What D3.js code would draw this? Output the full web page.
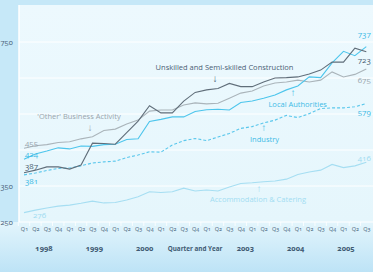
<!DOCTYPE html>
<html>
<head>
  <meta charset="utf-8">
  <script src="https://cdn.jsdelivr.net/npm/d3@7/dist/d3.min.js"></script>
  <style>
    body { margin: 0; background: #c6e8f8; }
    text { font-family: "Open Sans", "Noto Sans", sans-serif; font-variant-numeric: oldstyle-nums; }
  </style>
</head>
<body>
<script>

// quarters 1998 Q1 .. 2005 Q3
var quarterLabels = ["Q1","Q2","Q3","Q4","Q1","Q2","Q3","Q4","Q1","Q2","Q3","Q4",
                     "Q1","Q2","Q3","Q4","Q1","Q2","Q3","Q4","Q1","Q2","Q3","Q4",
                     "Q1","Q2","Q3","Q4","Q1","Q2","Q3"];
var yearLabels = ["1998", "1999", "2000", "Quarter and Year", "2003", "2004", "2005"];
var yTickLabels = [250, 350, 750];
var gridValues = [250, 350, 450, 550, 650, 750];

var construction = [387,394,403,403,397,408,469,468,466,498,530,573,553,553,586,610,
                    617,621,635,626,626,639,650,651,653,661,672,694,694,733,723];
var business = [455,462,465,471,473,481,487,504,508,522,533,558,561,561,575,581,
                578,580,594,608,614,628,636,639,644,639,644,667,653,660,675];
var localAuth = [424,439,447,456,453,461,460,465,466,479,481,529,535,542,542,557,
                 562,563,561,582,586,594,603,617,628,653,651,692,724,712,737];
var industry = [381,386,393,399,400,406,414,417,419,429,436,445,444,464,476,482,
                476,486,496,510,515,525,533,546,540,551,565,567,567,570,579];
var accommodation = [276,283,289,294,297,302,308,303,304,311,320,334,332,334,344,336,
                     339,336,347,357,359,362,364,369,382,389,394,410,401,406,416];

var series = [
  {name: "Accommodation & Catering", values: accommodation, color: "#a6def2", dash: null},
  {name: "Industry", values: industry, color: "#5ac7ec", dash: "3,2"},
  {name: "'Other' Business Activity", values: business, color: "#aab4ba", dash: null},
  {name: "Local Authorities", values: localAuth, color: "#4cc5ec", dash: null},
  {name: "Unskilled and Semi-skilled Construction", values: construction, color: "#606e7a", dash: null}
];

var svgWidth = 373, svgHeight = 272;
var plot = {left: 19, top: 5, right: 373, bottom: 222};

var svg = d3.select("body").append("svg")
    .attr("width", svgWidth)
    .attr("height", svgHeight);

var defs = svg.append("defs");
var g1 = defs.append("linearGradient").attr("id", "bottomGrad")
    .attr("x1", 0).attr("y1", 0).attr("x2", 0).attr("y2", 1);
g1.append("stop").attr("offset", "0%").attr("stop-color", "#e3f5fc");
g1.append("stop").attr("offset", "100%").attr("stop-color", "#bde3f6");
var g2 = defs.append("linearGradient").attr("id", "plotGrad")
    .attr("x1", 0).attr("y1", 0).attr("x2", 0).attr("y2", 1);
g2.append("stop").attr("offset", "0%").attr("stop-color", "#edf9fe");
g2.append("stop").attr("offset", "100%").attr("stop-color", "#e5f6fc");

svg.append("rect")
    .attr("x", 0).attr("y", plot.bottom)
    .attr("width", svgWidth).attr("height", svgHeight - plot.bottom)
    .attr("fill", "url(#bottomGrad)");

svg.append("rect")
    .attr("x", plot.left).attr("y", plot.top)
    .attr("width", plot.right - plot.left).attr("height", plot.bottom - plot.top)
    .attr("fill", "url(#plotGrad)");

var x = d3.scaleLinear().domain([0, quarterLabels.length - 1]).range([24, 366.3]);
var y = d3.scaleLinear().domain([250, 850]).range([plot.bottom, 6]);
var yearX = d3.scalePoint().domain(yearLabels).range([44, 346]);

// grid
svg.selectAll(".grid")
  .data(gridValues)
  .enter().append("line")
    .attr("x1", plot.left).attr("x2", plot.right)
    .attr("y1", function(d) { return y(d); })
    .attr("y2", function(d) { return y(d); })
    .attr("stroke", "#ffffff")
    .attr("stroke-width", 1);

svg.append("line")
    .attr("x1", plot.left).attr("x2", plot.left)
    .attr("y1", plot.top).attr("y2", plot.bottom)
    .attr("stroke", "#ffffff").attr("stroke-width", 1.5);

// y labels, tucked against the left edge
svg.selectAll(".ylab")
  .data(yTickLabels)
  .enter().append("text")
    .attr("x", 0.5)
    .attr("y", function(d) { return y(d); })
    .attr("dy", "0.35em")
    .attr("text-anchor", "start")
    .attr("fill", "#4a6278")
    .style("font-size", "7.5px")
    .text(function(d) { return d; });

// x axis: quarter labels, white separators between them
var xAxis = d3.axisBottom(x)
    .tickValues(d3.range(quarterLabels.length))
    .tickFormat(function(i) { return quarterLabels[i]; })
    .tickSize(0)
    .tickPadding(5);

var ax = svg.append("g")
    .attr("transform", "translate(0," + plot.bottom + ")")
    .call(xAxis);
ax.select(".domain").remove();
ax.selectAll("text")
    .attr("fill", "#46627a")
    .style("font-size", "5.5px")
    .style("font-family", "'Open Sans', sans-serif");

svg.selectAll(".sep")
  .data(d3.range(quarterLabels.length))
  .enter().append("line")
    .attr("x1", function(i) { return x(i - 0.5); })
    .attr("x2", function(i) { return x(i - 0.5); })
    .attr("y1", plot.bottom).attr("y2", plot.bottom + 4)
    .attr("stroke", "#ffffff").attr("stroke-width", 0.8);

svg.selectAll(".year")
  .data(yearLabels)
  .enter().append("text")
    .attr("x", function(d) { return yearX(d); })
    .attr("y", 251)
    .attr("text-anchor", "middle")
    .attr("fill", "#3f5a72")
    .style("font-weight", "bold")
    .style("font-size", function(d) { return d.length > 4 ? "6.3px" : "7.5px"; })
    .text(function(d) { return d; });

// lines
var line = d3.line()
    .x(function(d, i) { return x(i); })
    .y(function(d) { return y(d); });

svg.selectAll(".series")
  .data(series)
  .enter().append("path")
    .attr("d", function(d) { return line(d.values); })
    .attr("fill", "none")
    .attr("stroke", function(d) { return d.color; })
    .attr("stroke-width", 1.1)
    .attr("stroke-dasharray", function(d) { return d.dash; });

// start / end value labels
var endLabels = [
  {s: business, at: 0, color: "#9aa6ae", dx: 1, dy: -5.5},
  {s: localAuth, at: 0, color: "#3dbbe6", dx: 1, dy: -5},
  {s: construction, at: 0, color: "#4a5f72", dx: 1, dy: -6.5},
  {s: industry, at: 0, color: "#3ab9e4", dx: 1, dy: 6.5},
  {s: accommodation, at: 0, color: "#a0dcf1", dx: 9, dy: 2.5},
  {s: localAuth, at: 30, color: "#3dbbe6", dx: -2, dy: -12},
  {s: construction, at: 30, color: "#4a5f72", dx: -2, dy: 8.5},
  {s: business, at: 30, color: "#9aa6ae", dx: -2, dy: 11},
  {s: industry, at: 30, color: "#3ab9e4", dx: -2, dy: 8.5},
  {s: accommodation, at: 30, color: "#a0dcf1", dx: -2, dy: -4.5}
];

svg.selectAll(".vlab")
  .data(endLabels)
  .enter().append("text")
    .attr("x", function(d) { return x(d.at) + d.dx; })
    .attr("y", function(d) { return y(d.s[d.at]) + d.dy; })
    .attr("dy", "0.35em")
    .attr("text-anchor", function(d) { return d.at === 0 ? "start" : "middle"; })
    .attr("fill", function(d) { return d.color; })
    .style("font-size", "8px")
    .text(function(d) { return d.s[d.at]; });

// series annotations
var notes = [
  {text: "Unskilled and Semi-skilled Construction", x: 224.5, y: 67, ax: 215, ay: 78, arrow: "\u2193", color: "#4a6075"},
  {text: "'Other' Business Activity", x: 79, y: 116.5, ax: 90, ay: 127.5, arrow: "\u2193", color: "#9aa5ad"},
  {text: "Local Authorities", x: 297.7, y: 104, ax: 293, ay: 92, arrow: "\u2191", color: "#3dbbe6"},
  {text: "Industry", x: 264.5, y: 139.3, ax: 263.7, ay: 127.5, arrow: "\u2191", color: "#3dbbe6"},
  {text: "Accommodation & Catering", x: 258, y: 199, ax: 259, ay: 188.5, arrow: "\u2191", color: "#a2ddf2"}
];

var note = svg.selectAll(".note")
  .data(notes)
  .enter().append("g");

note.append("text")
    .attr("x", function(d) { return d.x; })
    .attr("y", function(d) { return d.y; })
    .attr("dy", "0.35em")
    .attr("text-anchor", "middle")
    .attr("fill", function(d) { return d.color; })
    .style("font-size", "7.5px")
    .text(function(d) { return d.text; });

note.append("text")
    .attr("x", function(d) { return d.ax; })
    .attr("y", function(d) { return d.ay; })
    .attr("dy", "0.35em")
    .attr("text-anchor", "middle")
    .attr("fill", function(d) { return d.color; })
    .style("font-size", "10px")
    .text(function(d) { return d.arrow; });

</script>
</body>
</html>
